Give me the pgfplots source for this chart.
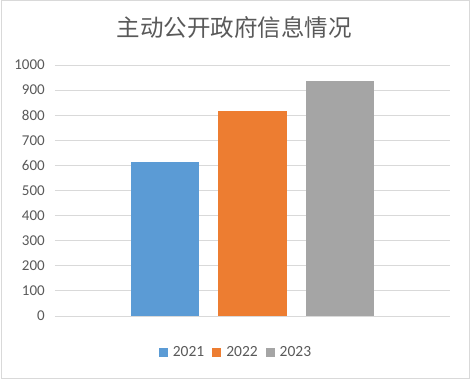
\documentclass[border=0pt]{standalone}
\usepackage{pgfplots}
\pgfplotsset{compat=1.18}
\usepackage{fontspec}
\setmainfont{Carlito}
\newfontfamily\cjk{Noto Sans CJK SC}
\definecolor{cblue}{HTML}{5B9BD5}
\definecolor{corange}{HTML}{ED7D31}
\definecolor{cgray}{HTML}{A5A5A5}
\definecolor{gridgray}{HTML}{D9D9D9}
\definecolor{textgray}{HTML}{595959}
\begin{document}
\begin{tikzpicture}
\useasboundingbox (0,0) rectangle (470pt,-381pt);
\draw[color=gridgray, line width=1pt] (1pt,-0.5pt) rectangle (469.5pt,-378.5pt);
\node[text=textgray, font=\cjk\fontsize{23.5}{28}\selectfont] at (234pt,-28pt) {主动公开政府信息情况};
\begin{axis}[
  at={(55pt,-316pt)}, anchor=south west,
  scale only axis, width=395pt, height=251pt,
  xmin=-0.5, xmax=0.5, ymin=0, ymax=1000,
  ytick={0,100,...,1000}, xtick=\empty,
  ybar,
  axis line style={draw=none},
  major tick length=0pt,
  ymajorgrids, grid style={gridgray, line width=0.9pt},
  /pgf/number format/assume math mode=true,
  /pgf/number format/1000 sep={},
  yticklabel style={text=textgray, font=\fontsize{15}{18}\selectfont, inner sep=0pt, xshift=-10pt},
  legend style={at={(0.4557,-0.1434)}, anchor=center, draw=none, fill=none,
    legend columns=3, font=\fontsize{15.5}{18}\selectfont, text=textgray,
    nodes={inner sep=0pt},
    /tikz/every odd column/.append style={column sep=5pt},
    /tikz/every even column/.append style={column sep=8pt}},
  legend image code/.code={\draw[#1,draw=none] (0pt,-4.5pt) rectangle (9pt,4.5pt);},
]
\addplot[fill=cblue, draw=none, bar width=68.5pt, bar shift=-87.5pt] coordinates {(0,613)};
\addplot[fill=corange, draw=none, bar width=68.5pt, bar shift=0pt] coordinates {(0,817)};
\addplot[fill=cgray, draw=none, bar width=68.5pt, bar shift=87.5pt] coordinates {(0,937)};
\legend{2021,2022,2023}
\end{axis}
\end{tikzpicture}
\end{document}
